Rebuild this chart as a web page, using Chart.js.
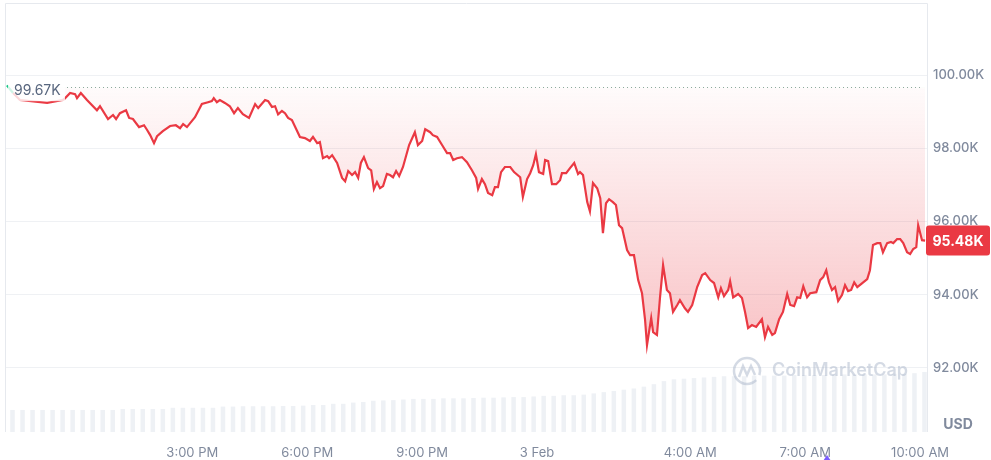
<!DOCTYPE html>
<html>
<head>
<meta charset="utf-8">
<style>
  html, body { margin: 0; padding: 0; background: #fff; }
  #wrap { width: 991px; height: 460px; position: relative; }
</style>
<script src="https://cdn.jsdelivr.net/npm/chart.js@4"></script>
</head>
<body>
<div id="wrap"><canvas id="price_chart"></canvas></div>
<script>
// hours since 00:00, 2 Feb (24 = midnight, 3 Feb)
const hours = [
  10.16, 10.32, 10.50, 11.21, 11.62, 11.65, 11.81, 11.94, 11.99, 12.09, 12.25, 12.51, 12.59, 12.80, 12.93, 13.01,
  13.11, 13.27, 13.35, 13.45, 13.61, 13.74, 13.82, 13.90, 14.00, 14.08, 14.23, 14.42, 14.57, 14.68, 14.76, 14.86,
  15.07, 15.25, 15.41, 15.51, 15.56, 15.64, 15.72, 15.85, 15.98, 16.09, 16.19, 16.32, 16.48, 16.64, 16.72, 16.90,
  16.98, 17.08, 17.16, 17.24, 17.34, 17.42, 17.50, 17.60, 17.81, 17.94, 18.07, 18.15, 18.26, 18.33, 18.41, 18.52,
  18.57, 18.65, 18.78, 18.91, 18.99, 19.07, 19.17, 19.25, 19.33, 19.40, 19.48, 19.59, 19.67, 19.74, 19.82, 19.90,
  19.98, 20.08, 20.16, 20.24, 20.32, 20.40, 20.50, 20.66, 20.81, 20.89, 21.00, 21.08, 21.21, 21.28, 21.39, 21.52,
  21.65, 21.73, 21.81, 21.91, 22.04, 22.17, 22.30, 22.41, 22.46, 22.56, 22.64, 22.72, 22.83, 22.90, 22.98, 23.06,
  23.16, 23.30, 23.40, 23.56, 23.63, 23.74, 23.82, 23.90, 23.97, 24.05, 24.16, 24.21, 24.29, 24.39, 24.50, 24.60,
  24.65, 24.76, 24.86, 24.97, 25.07, 25.12, 25.20, 25.31, 25.38, 25.46, 25.57, 25.65, 25.72, 25.80, 25.88, 25.98,
  26.06, 26.14, 26.22, 26.35, 26.43, 26.53, 26.64, 26.74, 26.82, 26.87, 26.98, 27.03, 27.13, 27.21, 27.29, 27.39,
  27.47, 27.55, 27.66, 27.73, 27.86, 27.94, 28.05, 28.18, 28.31, 28.39, 28.52, 28.62, 28.73, 28.80, 28.88, 28.99,
  29.04, 29.12, 29.25, 29.35, 29.43, 29.51, 29.61, 29.72, 29.87, 29.95, 30.03, 30.14, 30.21, 30.32, 30.42, 30.53,
  30.61, 30.71, 30.79, 30.87, 30.95, 31.05, 31.13, 31.29, 31.39, 31.47, 31.55, 31.62, 31.70, 31.78, 31.86, 31.96,
  32.04, 32.12, 32.20, 32.28, 32.36, 32.49, 32.62, 32.69, 32.77, 32.88, 32.96, 33.03, 33.14, 33.24, 33.30, 33.40,
  33.48, 33.56, 33.66, 33.74, 33.82, 33.90, 33.95, 34.05, 34.13
];
// price in thousands of USD
const prices = [
  99.72, 99.51, 99.32, 99.24, 99.32, 99.34, 99.51, 99.48, 99.37, 99.51, 99.32, 99.04, 99.15, 98.80, 98.91, 98.80,
  98.96, 99.04, 98.83, 98.80, 98.58, 98.63, 98.50, 98.36, 98.14, 98.33, 98.47, 98.61, 98.63, 98.55, 98.66, 98.58,
  98.85, 99.21, 99.26, 99.29, 99.37, 99.26, 99.32, 99.24, 99.15, 98.96, 99.10, 98.93, 98.83, 99.21, 99.10, 99.32,
  99.29, 99.13, 99.15, 98.93, 99.02, 98.96, 98.83, 98.77, 98.31, 98.28, 98.20, 98.31, 98.14, 98.17, 97.73, 97.79,
  97.73, 97.81, 97.60, 97.19, 97.10, 97.38, 97.27, 97.35, 97.19, 97.60, 97.76, 97.46, 97.40, 96.89, 97.08, 96.91,
  96.97, 97.30, 97.27, 97.21, 97.38, 97.24, 97.49, 98.09, 98.44, 98.09, 98.20, 98.52, 98.44, 98.36, 98.31, 98.09,
  97.87, 97.87, 97.68, 97.73, 97.76, 97.62, 97.40, 97.19, 96.89, 97.16, 97.02, 96.78, 96.72, 96.94, 96.94, 97.35,
  97.49, 97.49, 97.35, 97.21, 96.67, 97.16, 97.32, 97.54, 97.84, 97.35, 97.30, 97.68, 97.65, 97.02, 97.02, 97.13,
  97.32, 97.32, 97.46, 97.60, 97.30, 97.35, 97.27, 96.53, 96.28, 97.05, 96.91, 96.64, 95.68, 96.50, 96.61, 96.53,
  96.45, 95.90, 95.82, 95.22, 95.08, 95.08, 94.40, 94.04, 93.31, 92.62, 93.36, 92.98, 92.90, 93.93, 94.81, 94.13,
  94.04, 93.53, 93.72, 93.85, 93.63, 93.53, 93.72, 94.21, 94.54, 94.59, 94.40, 94.32, 93.93, 94.18, 93.96, 94.13,
  94.37, 93.93, 94.02, 93.91, 93.53, 93.09, 93.17, 93.12, 93.33, 92.84, 93.12, 92.90, 92.95, 93.33, 93.53, 94.02,
  93.72, 93.69, 93.93, 93.91, 94.23, 93.93, 94.04, 94.07, 94.40, 94.48, 94.67, 94.34, 94.13, 94.21, 93.83, 93.99,
  94.26, 94.10, 94.13, 94.34, 94.21, 94.32, 94.43, 94.67, 95.36, 95.41, 95.41, 95.16, 95.41, 95.44, 95.41, 95.52,
  95.52, 95.41, 95.16, 95.11, 95.25, 95.30, 95.90, 95.49, 95.48
];
// trading volume, billions of USD (one bar per ~15 min block)
const volumes = [
  36, 36, 36, 36, 36, 36, 36, 36, 36, 36, 36,
  37.5, 37.5, 37.5, 37.5, 37.5,
  39.5, 39.5, 39.5, 39.5, 39.5,
  41.5, 41.5, 42, 42, 42, 42, 42.5, 42.5, 43,
  44, 44, 46, 46, 48, 49, 51, 51.5, 52,
  53, 54, 54, 54, 55, 55, 55, 55.5, 56, 56,
  56.5, 57, 57, 58, 59, 59, 60, 60, 61,
  63, 65, 67, 69, 71, 74, 78, 83, 86, 87,
  88, 89, 90, 91, 91, 91, 92, 92, 92, 92, 93,
  93, 93, 93, 94, 94, 94, 94, 94, 94, 95,
  95, 96, 98
];
const openPrice = 99.67;
const tickHours = [15, 18, 21, 24, 28, 31, 34];
const tickLabels = ['3:00 PM', '6:00 PM', '9:00 PM', '3 Feb', '4:00 AM', '7:00 AM', '10:00 AM'];
const priceTicks = [92, 94, 96, 98, 100];
const eventHours = [31.57];

const red = '#ea3943';
const green = '#16c784';

Chart.defaults.font.family = 'Inter, "Noto Sans", sans-serif';

const price_points = hours.map((h, i) => ({ x: h, y: prices[i] }));
const volume_labels = volumes.map((v, i) => i);

const overlay_plugin = {
  id: 'overlay',
  beforeDatasetsDraw(chart) {
    const { ctx, chartArea, scales } = chart;
    // frame
    ctx.save();
    ctx.strokeStyle = '#e6e9ee';
    ctx.lineWidth = 1;
    ctx.beginPath();
    ctx.moveTo(chartArea.left + 0.5, chartArea.bottom);
    ctx.lineTo(chartArea.left + 0.5, chartArea.top + 0.5);
    ctx.lineTo(chartArea.right + 0.5, chartArea.top + 0.5);
    ctx.lineTo(chartArea.right + 0.5, chartArea.bottom);
    ctx.stroke();
    // open price dotted line
    const yRef = Math.round(scales.y.getPixelForValue(openPrice)) + 0.5;
    ctx.strokeStyle = '#8fa9a0';
    ctx.setLineDash([1, 3]);
    ctx.beginPath();
    ctx.moveTo(chartArea.left + 62, yRef);
    ctx.lineTo(chartArea.right - 4, yRef);
    ctx.stroke();
    ctx.restore();
  },
  afterDatasetsDraw(chart) {
    const { ctx, chartArea, scales } = chart;
    ctx.save();
    // watermark
    const wx = chartArea.right - 155;
    const wy = chartArea.bottom - 61;
    ctx.fillStyle = 'rgba(170,182,202,0.5)';
    ctx.strokeStyle = 'rgba(170,182,202,0.5)';
    ctx.font = '600 18px Inter, sans-serif';
    ctx.textAlign = 'left';
    ctx.textBaseline = 'middle';
    ctx.fillText('CoinMarketCap', wx, wy);
    const cx = wx - 25, cy = wy;
    ctx.lineWidth = 2.5;
    ctx.beginPath();
    ctx.arc(cx, cy, 13, 0.25 * Math.PI, 2.1 * Math.PI);
    ctx.stroke();
    ctx.beginPath();
    ctx.moveTo(cx - 8, cy + 6);
    ctx.lineTo(cx - 4, cy - 5);
    ctx.lineTo(cx, cy + 4);
    ctx.lineTo(cx + 4, cy - 5);
    ctx.lineTo(cx + 8, cy + 4);
    ctx.stroke();
    // open price label
    const yRef = scales.y.getPixelForValue(openPrice);
    ctx.fillStyle = 'rgba(255,255,255,0.8)';
    ctx.fillRect(chartArea.left + 3, yRef - 8, 57, 22);
    ctx.fillStyle = '#58667e';
    ctx.font = '14px Inter, sans-serif';
    ctx.textAlign = 'left';
    ctx.fillText(openPrice.toFixed(2) + 'K', chartArea.left + 9, yRef + 4);
    ctx.restore();
  },
  afterDraw(chart) {
    const { ctx, chartArea, scales } = chart;
    const last = prices[prices.length - 1];
    const y = scales.y.getPixelForValue(last);
    ctx.save();
    // current price tag
    ctx.fillStyle = red;
    ctx.beginPath();
    ctx.roundRect(chartArea.right - 1, y - 15, 64, 30, 3);
    ctx.fill();
    ctx.fillStyle = '#fff';
    ctx.font = 'bold 14px Inter, sans-serif';
    ctx.textAlign = 'center';
    ctx.textBaseline = 'middle';
    ctx.fillText(last.toFixed(2) + 'K', chartArea.right + 31, y + 1);
    // currency
    ctx.fillStyle = '#808a9d';
    ctx.fillText('USD', chartArea.right + 31, chartArea.bottom - 7);
    // event markers
    ctx.fillStyle = '#7a5cff';
    eventHours.forEach(h => {
      const x = scales.x.getPixelForValue(h);
      ctx.beginPath();
      ctx.moveTo(x, chart.height - 5);
      ctx.lineTo(x + 4, chart.height + 1);
      ctx.lineTo(x - 4, chart.height + 1);
      ctx.closePath();
      ctx.fill();
    });
    ctx.restore();
  }
};

const price_chart = new Chart(document.getElementById('price_chart'), {
  data: {
    datasets: [{
      type: 'line',
      data: price_points,
      xAxisID: 'x',
      yAxisID: 'y',
      borderColor: red,
      borderWidth: 2.2,
      pointRadius: 0,
      tension: 0,
      order: 1,
      segment: {
        borderColor: c => (c.p0.parsed.y > openPrice ? green : undefined)
      },
      fill: { target: { value: openPrice }, above: 'rgba(22,199,132,0.08)' },
      backgroundColor: c => {
        const { chartArea, scales } = c.chart;
        if (!chartArea) return 'rgba(234,57,67,0.1)';
        const top = scales.y.getPixelForValue(openPrice);
        const bottom = scales.y.getPixelForValue(Math.min(...prices));
        const g = c.chart.ctx.createLinearGradient(0, top, 0, bottom);
        g.addColorStop(0, 'rgba(234,57,67,0.02)');
        g.addColorStop(1, 'rgba(234,57,67,0.3)');
        return g;
      }
    }, {
      type: 'bar',
      data: volumes,
      xAxisID: 'xv',
      yAxisID: 'yv',
      backgroundColor: '#eef1f5',
      barPercentage: 0.9,
      categoryPercentage: 1,
      order: 2
    }]
  },
  options: {
    responsive: true,
    maintainAspectRatio: false,
    animation: false,
    devicePixelRatio: 1,
    layout: { padding: { left: 5, top: 3, right: 0, bottom: 0 } },
    plugins: {
      legend: { display: false },
      tooltip: { enabled: false }
    },
    scales: {
      x: {
        type: 'linear',
        min: 10.11,
        max: 34.18,
        grid: { display: false, drawTicks: false },
        border: { display: false },
        afterBuildTicks: s => { s.ticks = tickHours.map(v => ({ value: v })); },
        afterFit: s => { s.height = 28; s.paddingLeft = 0; s.paddingRight = 0; },
        ticks: {
          autoSkip: false,
          maxRotation: 0,
          padding: 13,
          color: '#808a9d',
          font: { size: 13 },
          callback: v => tickLabels[tickHours.indexOf(v)]
        }
      },
      y: {
        position: 'right',
        min: 90.25,
        max: 101.97,
        grid: { color: '#eff1f4', drawTicks: false },
        border: { display: false },
        afterBuildTicks: s => { s.ticks = priceTicks.map(v => ({ value: v })); },
        afterFit: s => { s.width = 64; s.paddingTop = 0; s.paddingBottom = 0; },
        ticks: {
          padding: 6,
          color: '#808a9d',
          font: { size: 13, weight: '500' },
          callback: v => v.toFixed(2) + 'K'
        }
      },
      xv: { type: 'category', labels: volume_labels, display: false, offset: true },
      yv: { display: false, min: 0, max: 700 }
    }
  },
  plugins: [overlay_plugin]
});
</script>
</body>
</html>
